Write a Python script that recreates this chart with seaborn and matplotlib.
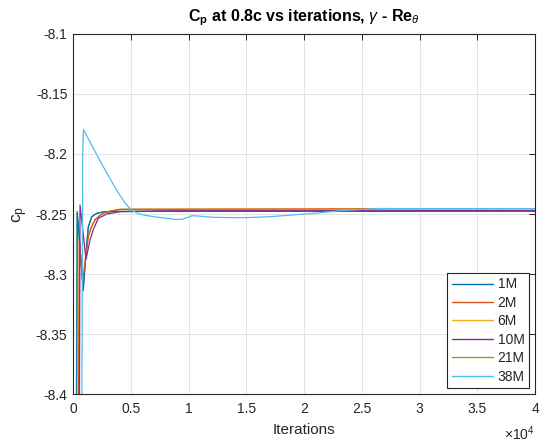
import matplotlib
matplotlib.use("Agg")
import matplotlib.pyplot as plt
import numpy as np
import pandas as pd
import seaborn as sns
from matplotlib.ticker import FuncFormatter, MultipleLocator

# Mesh sizes and their line colours
meshes = ["1M", "2M", "6M", "10M", "21M", "38M"]
colors = ["#0072BD", "#D95319", "#EDB120", "#7E2F8E", "#77AC30", "#4DBEEE"]

# Convergence history of Cp at 0.8c (iteration, Cp) for each mesh
it_1m = [250, 370, 890, 1100, 1325, 1620, 2050, 2600, 4000, 40000]
cp_1m = [-8.60, -8.248, -8.314, -8.285, -8.2606, -8.2522, -8.2494, -8.2483, -8.2478, -8.2476]

it_2m = [400, 545, 840, 1000, 1325, 1600, 1905, 2300, 2625, 3200, 4070, 40000]
cp_2m = [-8.60, -8.272, -8.308, -8.293, -8.269, -8.2605, -8.255, -8.2515, -8.2494, -8.2475, -8.2461, -8.2455]

it_6m = [420, 560, 860, 1340, 1930, 2650, 4100, 40000]
cp_6m = [-8.60, -8.274, -8.306, -8.267, -8.254, -8.2492, -8.2460, -8.2456]

it_10m = [500, 606, 1126, 1472, 1758, 2190, 2918, 4070, 8000, 40000]
cp_10m = [-8.60, -8.2425, -8.2878, -8.2717, -8.263, -8.2536, -8.250, -8.2481, -8.2473, -8.2472]

it_21m = [230, 350, 880, 1320, 1620, 2050, 2600, 4000, 40000]
cp_21m = [-8.60, -8.249, -8.312, -8.261, -8.2525, -8.2495, -8.2484, -8.2479, -8.2477]

it_38m = [700, 840, 900, 1200, 1500, 2000, 2500, 3000, 3500, 4000, 4500, 4800,
          5200, 5700, 6300, 7000, 8000, 8800, 9400, 9900, 10300, 11000, 12000,
          13500, 15000, 17000, 19000, 21000, 23000, 25000, 26500, 28000, 40000]
cp_38m = [-8.60, -8.200, -8.1795, -8.1850, -8.1905, -8.1995, -8.2085, -8.2170,
          -8.2255, -8.2335, -8.2405, -8.2442, -8.2475, -8.2498, -8.2512, -8.2522,
          -8.2535, -8.2545, -8.2545, -8.2530, -8.2514, -8.2518, -8.2527, -8.2530,
          -8.2530, -8.2523, -8.2508, -8.2493, -8.2474, -8.2462, -8.2454, -8.2455,
          -8.2456]

x_ticks = [0, 5000, 10000, 15000, 20000, 25000, 30000, 35000, 40000]
y_ticks = [-8.4, -8.35, -8.3, -8.25, -8.2, -8.15, -8.1]

histories = [(it_1m, cp_1m), (it_2m, cp_2m), (it_6m, cp_6m),
             (it_10m, cp_10m), (it_21m, cp_21m), (it_38m, cp_38m)]
frames = []
for name, (its, cps) in zip(meshes, histories):
    frames.append(pd.DataFrame({"iteration": its, "cp": cps, "mesh": name}))
df = pd.concat(frames, ignore_index=True)

sns.set_style("white")
plt.rcParams["font.family"] = ["Liberation Sans", "DejaVu Sans"]
plt.rcParams["mathtext.fontset"] = "custom"
plt.rcParams["mathtext.rm"] = "Liberation Sans"
plt.rcParams["mathtext.it"] = "Liberation Sans:italic"
plt.rcParams["mathtext.bf"] = "Liberation Sans:bold"

fig = plt.figure(figsize=(5.42, 4.45), dpi=100)
ax = fig.add_axes([0.1347, 0.1146, 0.8524, 0.809])

sns.lineplot(data=df, x="iteration", y="cp", hue="mesh", hue_order=meshes,
             palette=colors, sort=False, estimator=None, units="mesh",
             linewidth=0.9, ax=ax, legend=True)

# 6M and 21M sit underneath the other histories
for i, line in enumerate(ax.lines[:len(meshes)]):
    line.set_zorder(1.6 if meshes[i] in ("6M", "21M") else 2.0)

ax.set_xlim(0, 40000)
ax.set_ylim(-8.4, -8.1)
ax.set_xticks(x_ticks)
ax.set_yticks(y_ticks)
ax.xaxis.set_major_formatter(FuncFormatter(lambda v, _: f"{v / 1e4:g}"))
ax.yaxis.set_major_formatter(FuncFormatter(lambda v, _: f"{v:g}"))

ax.grid(True, color="#dfdfdf", linewidth=0.6)
ax.set_axisbelow(True)
for s in ax.spines.values():
    s.set_visible(True)
    s.set_color("#262626")
    s.set_linewidth(0.8)
ax.tick_params(direction="in", length=4, width=0.7, colors="#262626",
               labelsize=10, top=True, right=True)
ax.tick_params(axis="x", pad=6)
ax.tick_params(axis="y", pad=4)
for lbl in ax.get_xticklabels() + ax.get_yticklabels():
    lbl.set_color("#262626")

ax.set_xlabel("Iterations", fontsize=11, color="#262626", labelpad=5)
ax.set_ylabel(r"c$_\mathrm{p}$", fontsize=12.5, color="#262626", labelpad=4)
ax.set_title(r"C$_\mathbf{p}$ at 0.8c vs iterations, $\gamma$ - Re$_\theta$",
             fontsize=11.5, fontweight="bold", color="black", pad=9)
ax.text(1.0, -0.085, r"$\times$10$^{4}$", transform=ax.transAxes,
        ha="right", va="top", fontsize=10, color="#262626")

handles, labels = ax.get_legend_handles_labels()
leg = ax.legend(handles, labels, loc="lower right", fontsize=10,
                fancybox=False, framealpha=1, edgecolor="#262626",
                handlelength=3.0, handletextpad=0.3, labelspacing=0.32,
                borderpad=0.35, borderaxespad=0.4)
leg.get_frame().set_linewidth(0.8)
for h in leg.get_lines():
    h.set_linewidth(1.0)

fig.savefig("out.png", dpi=100)
